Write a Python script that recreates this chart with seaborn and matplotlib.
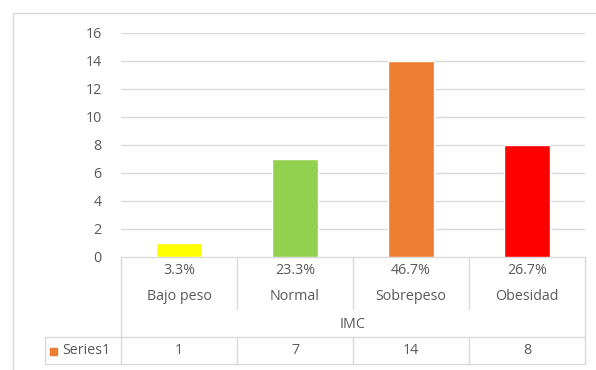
import matplotlib
matplotlib.use("Agg")
import matplotlib.pyplot as plt
import seaborn as sns
import pandas as pd
from matplotlib.lines import Line2D
from matplotlib.patches import Rectangle

categories = ["Bajo peso", "Normal", "Sobrepeso", "Obesidad"]
values = [1, 7, 14, 8]
percent_labels = ["3.3%", "23.3%", "46.7%", "26.7%"]
colors = ["#FFFF00", "#92D050", "#ED7D31", "#FF0000"]
axis_title = "IMC"
series_name = "Series1"
yticks = [0, 2, 4, 6, 8, 10, 12, 14, 16]

sns.set_theme(style="white")
plt.rcParams['font.family'] = ['Open Sans', 'DejaVu Sans']

FS = 10.3
W, H = 596, 370
fig = plt.figure(figsize=(W / 100, H / 100), dpi=100)
fig.patch.set_facecolor("white")

def fx(px):
    return px / W

def fy(py):
    return 1 - py / H

x0, x1 = 121, 585
y_top, y_bot = 33, 257
ax = fig.add_axes([fx(x0), fy(y_bot), fx(x1 - x0), (y_bot - y_top) / H])

df = pd.DataFrame({"cat": categories, "val": values})
sns.barplot(data=df, x="cat", y="val", hue="cat", palette=colors, legend=False,
            width=0.4, ax=ax, saturation=1, zorder=3)
ax.set_ylim(0, 16)
ax.set_xlim(-0.5, 3.5)
ax.set_yticks(yticks)
ax.set_yticklabels([str(t) for t in yticks], color="#595959", fontsize=FS)
ax.tick_params(axis="y", length=0, pad=14)
ax.set_xticks([])
ax.set_xlabel("")
ax.set_ylabel("")
for s in ["top", "right", "left"]:
    ax.spines[s].set_visible(False)
ax.spines["bottom"].set_color("#D9D9D9")
ax.spines["bottom"].set_linewidth(1)
for t in yticks[1:]:
    ax.axhline(t, color="#D9D9D9", lw=1, zorder=1)

grid_c = "#D9D9D9"
txt_c = "#595959"

def hline(xa, xb, y):
    fig.add_artist(Line2D([fx(xa), fx(xb)], [fy(y), fy(y)], color=grid_c, lw=1))

def vline(x, ya, yb):
    fig.add_artist(Line2D([fx(x), fx(x)], [fy(ya), fy(yb)], color=grid_c, lw=1))

# outer chart border (left and top)
vline(13, 13, 372)
hline(13, 598, 13)

# category table
cell_w = (x1 - x0) / 4
vline(x0, y_bot, 364)
vline(x1, y_bot, 364)
for i in range(1, 4):
    xi = x0 + i * cell_w
    vline(xi, y_bot, 309)
    vline(xi, 337, 364)
hline(45, x1, 337)
hline(45, x1, 364)
vline(45, 337, 364)

for i, (cat, pct, v) in enumerate(zip(categories, percent_labels, values)):
    cx = fx(x0 + (i + 0.5) * cell_w)
    fig.text(cx, fy(270), pct, ha="center", va="center", color=txt_c, fontsize=FS)
    fig.text(cx, fy(297), cat, ha="center", va="center", color=txt_c, fontsize=FS)
    fig.text(cx, fy(351), str(v), ha="center", va="center", color=txt_c, fontsize=FS)

fig.text(fx((x0 + x1) / 2), fy(324), axis_title, ha="center", va="center",
         color=txt_c, fontsize=FS)

# legend key in table
fig.add_artist(Rectangle((fx(50), fy(355)), fx(7), 7 / H, color=colors[2]))
fig.text(fx(62), fy(351), series_name, ha="left", va="center", color=txt_c, fontsize=FS)

fig.savefig("out.png", dpi=100)
